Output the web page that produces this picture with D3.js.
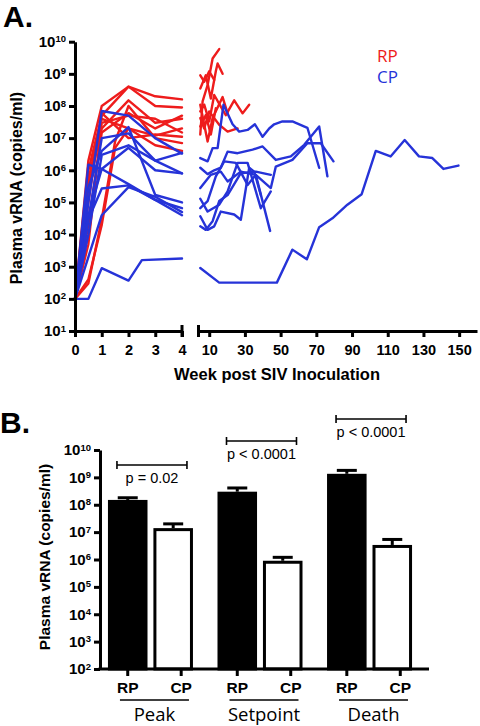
<!DOCTYPE html>
<html><head><meta charset="utf-8">
<script src="https://cdn.jsdelivr.net/npm/d3@7"></script>
<style>
body{margin:0;background:#fff;}
svg{display:block;}
</style></head><body>
<svg id="c" width="480" height="726"></svg>
<script>
// ---------- DATA ----------
// Panel A: weeks 0-4 (week, copies/ml)
const rpEarly = [
  [[0,1e2],[0.5,2e6],[1,1e8],[2,4e8],[3,2e8],[4,1.6e8]],
  [[0,1e2],[0.5,1e6],[1,5e7],[2,4e8],[3,1e8],[4,9e7]],
  [[0,1e2],[0.5,3e5],[1,2e7],[2,1.5e8],[3,3e7],[4,4e7]],
  [[0,1e2],[0.5,5e3],[1,3e7],[2,5e7],[3,4e7],[4,1.5e7]],
  [[0,1e2],[0.5,4e2],[1,2e4],[1.5,5e6],[2,2e7],[3,1.2e7],[4,2e7]],
  [[0,1e2],[0.5,3e2],[1,3e4],[1.5,8e6],[2,1e8],[3,1e7],[4,7e6]],
  [[0,1e2],[0.5,5e5],[1,4e7],[2,2e7],[3,6e6],[4,4e6]],
  [[0,1e2],[0.5,1e5],[1,6e7],[2,1e7],[3,1.3e7],[4,1.1e7]],
  [[0,1e2],[0.5,2e4],[1,1.5e7],[2,6e7],[3,2e7],[4,5e7]]
];
const cpEarly = [
  [[0,1e2],[0.5,1e5],[1,7e7],[2,5e7],[3,1e7],[4,3.3e6]],
  [[0,1e2],[0.5,3e4],[1,1e7],[2,1.4e7],[3,2e6],[4,8e5]],
  [[0,1e2],[0.5,3e5],[1,4e6],[2,2.2e7],[3,1.7e5],[4,1e5]],
  [[0,1e2],[0.5,1.5e6],[1,1.1e6],[2,3.7e5],[3,1.2e5],[4,4e4]],
  [[0,1e2],[0.5,4e4],[1,1.1e6],[2,5e6],[3,1e6],[4,8e5]],
  [[0,1e2],[0.5,2e3],[1,4e4],[2,3e5],[3,1.5e5],[4,5e4]],
  [[0,1e2],[0.5,1e4],[1,3e6],[2,6e6],[3,2e6],[4,3.5e6]],
  [[0,1e2],[0.5,1e2],[1,9e2],[2,3.7e2],[2.5,1.6e3],[4,1.8e3]],
  [[0,1e2],[0.5,3e4],[1,2.7e5],[2,3.4e5],[3,1.2e5],[4,6.6e4]]
];
// Panel A: weeks > 4
const rpLate = [
  [[5,1.3e7],[6.3,1.4e8],[9.1,4.5e8],[11.9,3e9],[15.6,5.9e9]],
  [[5,3.5e8],[8.1,9e8],[10.9,1.7e8],[13.7,1.2e9],[14.7,2.1e9],[17.5,1e9]],
  [[5,6.8e7],[7.2,1.1e8],[10,3.3e7],[12.8,2.2e8],[16.5,9.5e7],[19.3,5.2e7],[24,1.5e8],[28.7,5.9e7],[32.4,1.1e8]],
  [[5,4.2e7],[7.2,2e7],[10,6.8e7],[12.8,4.2e7],[15.6,2.6e7],[20.3,1.6e7],[25.9,2e7]],
  [[5,1.1e8],[9.1,7.8e6],[11.9,4.2e7],[17.5,1.9e8],[20.3,5.9e7]],
  [[5,2.3e7],[8.1,5.2e7],[10.9,1.3e7],[13.7,8.5e7]],
  [[5,9e8],[7.2,5.7e8],[10,1.2e9],[12.8,6.5e8]]
];
const cpLate = [
  [[5,2.4e6],[9.1,1.9e6],[11.9,4.9e6],[14.7,4.9e6],[18,1.1e8],[23.1,2.7e7],[26.8,1.6e7],[31.5,1.8e7],[35.6,2.7e7],[39.9,1.1e7],[43.6,2e7],[46.4,2.7e7],[51,3.3e7],[56.6,3.3e7],[65,2.1e7],[71.6,1.2e6]],
  [[5,1.2e6],[9.1,7.6e5],[12.8,1e6],[16.5,1.2e6],[20.3,3.8e6],[25.9,3.4e6],[34.3,4.4e6],[39.9,5.5e6],[47.3,2.1e6],[55.7,2.7e6],[63.2,6.2e6],[71.6,2.3e7],[76.2,6.5e5]],
  [[5,2.8e5],[10.9,7.2e5],[16.5,9.1e5],[20.3,4.5e5],[27.7,9.1e5],[36.1,7.2e5],[44.5,2.8e5],[47.3,1.3e6],[56.6,2.1e6],[65,6.9e6],[72.5,6.9e6],[79.6,1.9e6]],
  [[5,1.3e5],[9.1,5.2e4],[15.6,8.5e4],[20.3,2.2e5],[25.9,1.7e6],[31.5,1.7e6],[38.9,6.6e4],[44.5,2.2e5]],
  [[5,6.6e4],[9.1,1.1e5],[13.7,6.5e5],[18.4,1.9e6],[24.9,1.7e6],[31.5,3.5e5],[36.1,7.2e5],[44.1,1.3e4]],
  [[5,3.7e4],[9.1,1.4e4],[12.8,1.8e4],[16.5,5.2e4],[24,4.2e4],[27.7,2.9e4],[32.4,1.2e6],[35.2,9.1e5],[38.9,1.7e5]],
  [[5,1.8e4],[8.1,1.4e4],[11.9,2.6e4],[15.6,1.1e5],[20.3,1.7e5],[27.7,8.1e5],[36.1,9.1e5],[44.5,7.2e5]],
  [[5,9.1e2],[15.6,3.2e2],[47.9,3.2e2],[56.6,3.4e3],[64.7,1.7e3],[71.6,1.7e4],[79,3.2e4],[87.4,8.5e4],[95.4,1.8e5],[103.3,4e6],[111.6,2.7e6],[119.5,8.7e6],[127.5,2.7e6],[135,2.4e6],[141.2,1.1e6],[149.6,1.4e6]]
];
const earlyTicks = [0,1,2,3,4];
const lateTicks = [10,30,50,70,90,110,130,150];
const decadesA = [1,2,3,4,5,6,7,8,9,10];
const legendLabels = ["RP","CP"];

// Panel B
const groups = ["Peak","Setpoint","Death"];
const cohorts = ["RP","CP"];
const rpMean = [1.5e8, 3e8, 1.35e9];
const rpUpper = [1.8e8, 4.1e8, 1.8e9];
const cpMean = [1.4e7, 9e5, 3.4e6];
const cpUpper = [2e7, 1.2e6, 5.4e6];
const pLabels = ["p = 0.02","p < 0.0001","p < 0.0001"];
const decadesB = [2,3,4,5,6,7,8,9,10];

// ---------- STYLE ----------
const RED = "#ee1c1c", BLUE = "#2633d8";
const ARIAL = "'Liberation Sans', Arial, sans-serif";
const MYRIAD = "'Open Sans', 'Noto Sans', sans-serif";

const svg = d3.select("#c");

function styleAxis(g, size){
  g.attr("font-family",ARIAL).attr("font-weight","bold").attr("font-size",size);
  g.select(".domain").attr("stroke","#000").attr("stroke-width",3);
  g.selectAll(".tick line").attr("stroke","#000").attr("stroke-width",3);
  g.selectAll(".tick text").attr("fill","#000");
}
function supLabels(g, exps, supSize){
  g.selectAll(".tick text").each(function(d,i){
    const t = d3.select(this);
    t.text("10");
    t.append("tspan").attr("dy","-0.5em").attr("font-size",supSize).text(exps[i]);
  });
}

// ---------- PANEL A ----------
const yA = d3.scaleLog().domain([1e1,1e10]).range([331,41.7]);
const xL = d3.scaleLinear().domain([0,4]).range([75,182]);
const xR = d3.scaleLinear().domain([4,160]).range([198.5,477]);

svg.append("text").attr("x",3).attr("y",27).attr("font-family",ARIAL)
  .attr("font-weight","bold").attr("font-size",30).text("A.");

const lineL = d3.line().x(d=>xL(d[0])).y(d=>yA(d[1]));
const lineR = d3.line().x(d=>xR(d[0])).y(d=>yA(d[1]));

const gLines = svg.append("g").attr("fill","none").attr("stroke-width",2.4)
  .attr("stroke-linejoin","round").attr("stroke-linecap","round");
gLines.selectAll(".rpE").data(rpEarly).join("path").attr("class","rpE").attr("stroke",RED).attr("d",lineL);
gLines.selectAll(".rpL").data(rpLate).join("path").attr("class","rpL").attr("stroke",RED).attr("d",lineR);
gLines.selectAll(".cpE").data(cpEarly).join("path").attr("class","cpE").attr("stroke",BLUE).attr("d",lineL);
gLines.selectAll(".cpL").data(cpLate).join("path").attr("class","cpL").attr("stroke",BLUE).attr("d",lineR);

// y axis A
const gyA = svg.append("g").attr("transform","translate(75,0)")
  .call(d3.axisLeft(yA).tickValues(decadesA.map(e=>Math.pow(10,e))).tickSize(6).tickSizeOuter(0).tickPadding(3));
styleAxis(gyA, 15);
supLabels(gyA, decadesA, 9.5);

// x axes A
const gxL = svg.append("g").attr("transform","translate(0,331)")
  .call(d3.axisBottom(xL).tickValues(earlyTicks).tickFormat(d3.format("d")).tickSize(6).tickSizeOuter(0).tickPadding(8));
styleAxis(gxL, 14.5);
const gxR = svg.append("g").attr("transform","translate(0,331)")
  .call(d3.axisBottom(xR).tickValues(lateTicks).tickFormat(d3.format("d")).tickSize(6).tickSizeOuter(0).tickPadding(8));
styleAxis(gxR, 14.5);
// break caps
[xL.range()[1], xR.range()[0]].forEach(x=>{
  svg.append("line").attr("x1",x).attr("x2",x).attr("y1",325).attr("y2",337)
    .attr("stroke","#000").attr("stroke-width",3);
});

svg.append("text").attr("x",277).attr("y",380).attr("text-anchor","middle")
  .attr("font-family",ARIAL).attr("font-weight","bold").attr("font-size",16.5)
  .text("Week post SIV Inoculation");
svg.append("text").attr("transform","translate(22,188) rotate(-90)").attr("text-anchor","middle")
  .attr("font-family",ARIAL).attr("font-weight","bold").attr("font-size",16)
  .text("Plasma vRNA (copies/ml)");

// legend
svg.selectAll(".leg").data(legendLabels).join("text").attr("class","leg")
  .attr("x",377).attr("y",(d,i)=>62+i*21)
  .attr("font-family",MYRIAD).attr("font-size",17)
  .attr("fill",(d,i)=>i===0?RED:BLUE).text(d=>d);

// ---------- PANEL B ----------
svg.append("text").attr("x",0).attr("y",433).attr("font-family",ARIAL)
  .attr("font-weight","bold").attr("font-size",30).text("B.");

const yB = d3.scaleLog().domain([1e2,1e10]).range([669,450]);
const x0 = d3.scaleBand().domain(groups).range([97,423]).paddingInner(0.224).paddingOuter(0.1);
const x1 = d3.scaleBand().domain(cohorts).range([0,x0.bandwidth()]).paddingInner(0.13);

const barData = [];
groups.forEach((g,i)=>{
  barData.push({g, c:"RP", v:rpMean[i], u:rpUpper[i]});
  barData.push({g, c:"CP", v:cpMean[i], u:cpUpper[i]});
});
const bx = d=>x0(d.g)+x1(d.c);
const bw = x1.bandwidth();

svg.append("g").selectAll("rect").data(barData).join("rect")
  .attr("x",d=>bx(d)+1.5).attr("width",bw-3)
  .attr("y",d=>yB(d.v)+1.5).attr("height",d=>yB.range()[0]-yB(d.v)-1.5)
  .attr("fill",d=>d.c==="RP"?"#000":"#fff").attr("stroke","#000").attr("stroke-width",3);

const gErr = svg.append("g").attr("stroke","#000").attr("stroke-width",3);
gErr.selectAll(".v").data(barData).join("line").attr("class","v")
  .attr("x1",d=>bx(d)+bw/2).attr("x2",d=>bx(d)+bw/2)
  .attr("y1",d=>yB(d.v)).attr("y2",d=>yB(d.u));
gErr.selectAll(".h").data(barData).join("line").attr("class","h")
  .attr("x1",d=>bx(d)+bw/2-10).attr("x2",d=>bx(d)+bw/2+10)
  .attr("y1",d=>yB(d.u)).attr("y2",d=>yB(d.u));

// y axis B
const gyB = svg.append("g").attr("transform","translate(100,0)")
  .call(d3.axisLeft(yB).tickValues(decadesB.map(e=>Math.pow(10,e))).tickSize(6).tickSizeOuter(0).tickPadding(3));
styleAxis(gyB, 15);
supLabels(gyB, decadesB, 9.5);

// x axis B
svg.append("line").attr("x1",98.5).attr("x2",429).attr("y1",669).attr("y2",669)
  .attr("stroke","#000").attr("stroke-width",3);
const tickX = d=>bx(d)+bw/2+(d.c==="CP"?8:0);
svg.append("g").selectAll("line").data(barData).join("line")
  .attr("x1",tickX).attr("x2",tickX).attr("y1",669).attr("y2",676)
  .attr("stroke","#000").attr("stroke-width",3);
svg.append("g").selectAll("text").data(barData).join("text")
  .attr("x",tickX).attr("y",692.5).attr("text-anchor","middle")
  .attr("font-family",ARIAL).attr("font-weight","bold").attr("font-size",15.5)
  .text(d=>d.c);

// group underline + labels
const gGrp = svg.append("g");
gGrp.selectAll("line").data(groups).join("line")
  .attr("x1",g=>x0(g)+12).attr("x2",g=>x0(g)+81).attr("y1",700).attr("y2",700)
  .attr("stroke","#000").attr("stroke-width",1.5);
gGrp.selectAll("text").data(groups).join("text")
  .attr("x",g=>x0(g)+46.5).attr("y",721).attr("text-anchor","middle")
  .attr("font-family",MYRIAD).attr("font-size",18.5).text(g=>g);

// significance brackets
const bracketY = [465, 441, 419];
const gBr = svg.append("g").attr("stroke","#000").attr("stroke-width",1.6).attr("fill","none");
groups.forEach((g,i)=>{
  const cx = x0(g)+44, hw = 35, y = bracketY[i];
  gBr.append("line").attr("x1",cx-hw).attr("x2",cx+hw).attr("y1",y).attr("y2",y);
  gBr.append("line").attr("x1",cx-hw).attr("x2",cx-hw).attr("y1",y-4).attr("y2",y+4);
  gBr.append("line").attr("x1",cx+hw).attr("x2",cx+hw).attr("y1",y-4).attr("y2",y+4);
  svg.append("text").attr("x",cx).attr("y",y+17.5).attr("text-anchor","middle")
    .attr("font-family",ARIAL).attr("font-size",14.5).text(pLabels[i]);
});
svg.append("text").attr("transform","translate(50,557) rotate(-90)").attr("text-anchor","middle")
  .attr("font-family",ARIAL).attr("font-weight","bold").attr("font-size",15.5)
  .text("Plasma vRNA (copies/ml)");
</script>
</body></html>
